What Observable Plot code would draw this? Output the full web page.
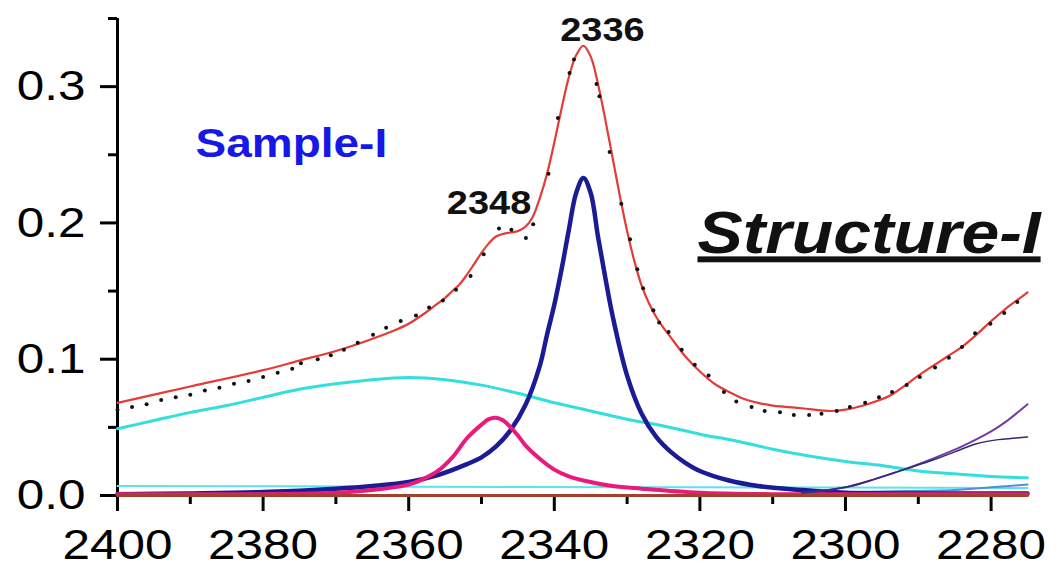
<!DOCTYPE html>
<html>
<head>
<meta charset="utf-8">
<script src="https://cdn.jsdelivr.net/npm/d3@7"></script>
<script src="https://cdn.jsdelivr.net/npm/@observablehq/plot@0.6"></script>
<style>
  html, body { margin: 0; padding: 0; background: #fff; }
</style>
</head>
<body>
<script>
// ---------- data ----------
const xMajorTicks = [2400, 2380, 2360, 2340, 2320, 2300, 2280];
const xMinorTicks = [2390, 2370, 2350, 2330, 2310, 2290];
const yMajorTicks = [0.0, 0.1, 0.2, 0.3];
const yMinorTicks = [0.05, 0.15, 0.25, 0.35];

// cumulative fit (red)
const fitWn  = [2400,2390,2380,2375,2370,2366,2362,2360,2358,2356,2355,2354,2353,2352,2351,2350,2349,2348,2347,2346,2345,2344,2343,2342,2341,2340,2339,2338,2337,2336,2335,2334,2333,2332,2331,2330,2329,2328,2327,2326,2325,2324,2322,2320,2318,2316,2314,2312,2310,2306,2302,2300,2297,2294,2292,2290,2288,2286,2284,2282,2280,2278,2276,2275];
const fitAbs = [0.068,0.080,0.092,0.099,0.106,0.113,0.121,0.126,0.133,0.141,0.145,0.150,0.155,0.162,0.170,0.178,0.185,0.190,0.192,0.193,0.194,0.197,0.204,0.218,0.236,0.259,0.284,0.307,0.323,0.330,0.322,0.302,0.276,0.248,0.220,0.194,0.172,0.154,0.141,0.131,0.123,0.116,0.102,0.091,0.082,0.076,0.071,0.068,0.066,0.064,0.062,0.063,0.067,0.073,0.080,0.088,0.095,0.102,0.109,0.118,0.128,0.137,0.145,0.149];

// measured spectrum (black dots)
const expWn  = [2400,2398,2396,2394,2392,2390,2388,2386,2384,2382,2380,2378,2376,2374.8,2372.5,2370.7,2368.9,2367,2364.9,2363.1,2361.1,2359,2357.2,2355.3,2353.5,2351.5,2349.7,2347.6,2345.9,2343.9,2342.9,2340.8,2339.5,2337.9,2337.3,2334.2,2333.8,2332.4,2330.8,2329.6,2328.6,2327.8,2326.4,2325.6,2324.3,2322.5,2320.7,2318.8,2316.7,2315,2312.9,2311.1,2309,2307.1,2305,2303.3,2301.2,2299.4,2297.3,2295.4,2293.6,2291.6,2289.8,2287.7,2285.8,2284,2282.2,2280.1,2278.2,2276.4];
const expAbs = [0.063,0.065,0.067,0.070,0.072,0.074,0.077,0.079,0.082,0.084,0.087,0.090,0.093,0.097,0.100,0.103,0.107,0.112,0.118,0.123,0.128,0.132,0.138,0.143,0.151,0.161,0.177,0.196,0.195,0.189,0.199,0.236,0.277,0.310,0.320,0.302,0.293,0.252,0.214,0.188,0.166,0.152,0.136,0.127,0.120,0.107,0.096,0.088,0.076,0.069,0.065,0.062,0.061,0.059,0.059,0.060,0.062,0.065,0.068,0.072,0.076,0.081,0.087,0.094,0.101,0.109,0.119,0.126,0.134,0.142];

// broad band (cyan)
const broadWn  = [2400,2395,2390,2385,2380,2375,2370,2365,2360,2355,2350,2345,2340,2335,2330,2325,2320,2315,2310,2305,2300,2295,2290,2285,2280,2275];
const broadAbs = [0.049,0.055,0.061,0.066,0.072,0.078,0.082,0.085,0.0865,0.085,0.081,0.075,0.068,0.062,0.056,0.051,0.045,0.040,0.034,0.029,0.025,0.022,0.018,0.016,0.014,0.013];

// flat band (thin cyan)
const flatWn  = [2400,2360,2320,2300,2275];
const flatAbs = [0.007,0.0065,0.006,0.0058,0.0055];

// main band 2336 (navy)
const band2336Wn  = [2400,2390,2380,2370,2365,2360,2356,2352,2350,2348,2346,2344,2342,2341,2340,2339,2338,2337,2336,2335,2334,2333,2332,2330,2328,2326,2324,2322,2320,2316,2312,2306,2300,2290,2280,2275];
const band2336Abs = [0.001,0.0015,0.0025,0.005,0.007,0.010,0.015,0.023,0.028,0.036,0.048,0.066,0.095,0.118,0.140,0.166,0.195,0.222,0.233,0.222,0.190,0.160,0.132,0.088,0.060,0.043,0.032,0.024,0.018,0.011,0.007,0.004,0.002,0.0015,0.0015,0.0015];

// shoulder band 2348 (pink)
const band2348Wn  = [2400,2380,2370,2365,2360,2358,2356,2354,2352,2350,2349,2348,2347,2346,2345,2344,2342,2340,2338,2336,2332,2328,2320,2310,2300,2275];
const band2348Abs = [0.001,0.001,0.002,0.004,0.008,0.012,0.018,0.028,0.042,0.052,0.056,0.057,0.055,0.050,0.044,0.037,0.027,0.019,0.014,0.011,0.007,0.005,0.002,0.001,0.001,0.001];

// rising band (purple)
const risePWn  = [2306,2304,2300,2296,2292,2288,2284,2280,2278,2275];
const risePAbs = [0.002,0.003,0.006,0.012,0.019,0.027,0.036,0.047,0.054,0.067];

// saturating band (thin dark blue)
const riseBWn  = [2306,2304,2300,2296,2292,2288,2285,2282,2279,2277,2275];
const riseBAbs = [0.002,0.003,0.006,0.012,0.019,0.026,0.032,0.038,0.041,0.042,0.043];

// small band at right (light blue)
const smallWn  = [2305,2295,2285,2280,2275];
const smallAbs = [0.002,0.003,0.004,0.006,0.008];

// baseline (brown)
const baseWn  = [2400,2275];
const baseAbs = [0,0];

const peakLabels = ["2348", "2336"];
const peakWn     = [2348, 2336];
const peakAbs    = [0.19, 0.33];

// ---------- helpers ----------
const zip = (xs, ys) => xs.map((x, i) => ({wn: x, a: ys[i]}));
const font = "'Liberation Sans', Arial, Helvetica, sans-serif";
const lineOpts = (stroke, strokeWidth) => ({x: "wn", y: "a", stroke, strokeWidth, curve: "catmull-rom", strokeLinecap: "round", strokeLinejoin: "round"});

const peaks = peakLabels.map((t, i) => ({t, wn: peakWn[i], a: peakAbs[i]}));

const chart = Plot.plot({
  width: 1057,
  height: 570,
  marginLeft: 117,
  marginRight: 30,
  marginTop: 18,
  marginBottom: 75,
  style: {fontFamily: font, background: "white", color: "black", overflow: "visible"},
  x: {domain: [2400, 2275], label: null},
  y: {domain: [0, 0.35], label: null},
  marks: [
    Plot.axisX({ticks: xMajorTicks, tickSize: 16, tickPadding: 17, fontSize: 43, strokeWidth: 3, tickFormat: d => String(d), label: null, fill: "black"}),
    Plot.axisX({ticks: xMinorTicks, tickSize: 9, strokeWidth: 3, tickFormat: () => "", label: null}),
    Plot.axisY({ticks: yMajorTicks, tickSize: 17, tickPadding: 15, fontSize: 43, strokeWidth: 3, tickFormat: d3.format(".1f"), label: null, fill: "black"}),
    Plot.axisY({ticks: yMinorTicks, tickSize: 9, strokeWidth: 3, tickFormat: () => "", label: null}),
    Plot.ruleY([0], {stroke: "black", strokeWidth: 3}),
    Plot.ruleX([2400], {stroke: "black", strokeWidth: 3}),

    Plot.line(zip(flatWn, flatAbs), lineOpts("#5ee3ea", 2)),
    Plot.line(zip(broadWn, broadAbs), lineOpts("#34dede", 3)),
    Plot.line(zip(smallWn, smallAbs), lineOpts("#4f8fd8", 2)),
    Plot.line(zip(band2336Wn, band2336Abs), lineOpts("#1b1b96", 4.5)),
    Plot.line(zip(band2348Wn, band2348Abs), lineOpts("#ea1a7c", 4)),
    Plot.line(zip(risePWn, risePAbs), lineOpts("#7a3b9e", 2)),
    Plot.line(zip(riseBWn, riseBAbs), lineOpts("#2c2c7c", 1.5)),
    Plot.line(zip(baseWn, baseAbs), lineOpts("#a3422c", 3)),
    Plot.line(zip(fitWn, fitAbs), lineOpts("#e53b37", 2.2)),
    Plot.dot(zip(expWn, expAbs), {x: "wn", y: "a", r: 2, fill: "#111"}),

    Plot.text(peaks.slice(1), {x: "wn", y: "a", text: "t", dx: 19, dy: -5, lineAnchor: "bottom", fontSize: 33, fontWeight: "bold", fill: "#111"}),
    Plot.text(peaks.slice(0, 1), {x: "wn", y: "a", text: "t", dx: -7, dy: -23, lineAnchor: "bottom", fontSize: 33, fontWeight: "bold", fill: "#111"}),
    Plot.text(["Sample-I"], {frameAnchor: "top-left", text: d => d, dx: 78, dy: 110, lineAnchor: "top", textAnchor: "start", fontSize: 40, fontWeight: "bold", fill: "#1717e8"}),
    Plot.text(["Structure-I"], {frameAnchor: "top-left", text: d => d, dx: 580, dy: 193, lineAnchor: "top", textAnchor: "start", fontSize: 59, fontWeight: "bold", fontStyle: "italic", fill: "#111"})
  ]
});

document.body.appendChild(chart);

// horizontal stretch of the lettering, as in the reference picture
const STRETCH = 1.15;
chart.querySelectorAll("text").forEach(el => {
  const s = el.textContent.trim();
  if (!s) return;
  const len = el.getComputedTextLength();
  if (len > 0) {
    el.setAttribute("textLength", (len * STRETCH).toFixed(1));
    el.setAttribute("lengthAdjust", "spacingAndGlyphs");
  }
  if (s === "Structure-I") {
    el.style.textDecoration = "underline";
    el.style.textDecorationThickness = "4px";
  }
});
</script>
</body>
</html>
